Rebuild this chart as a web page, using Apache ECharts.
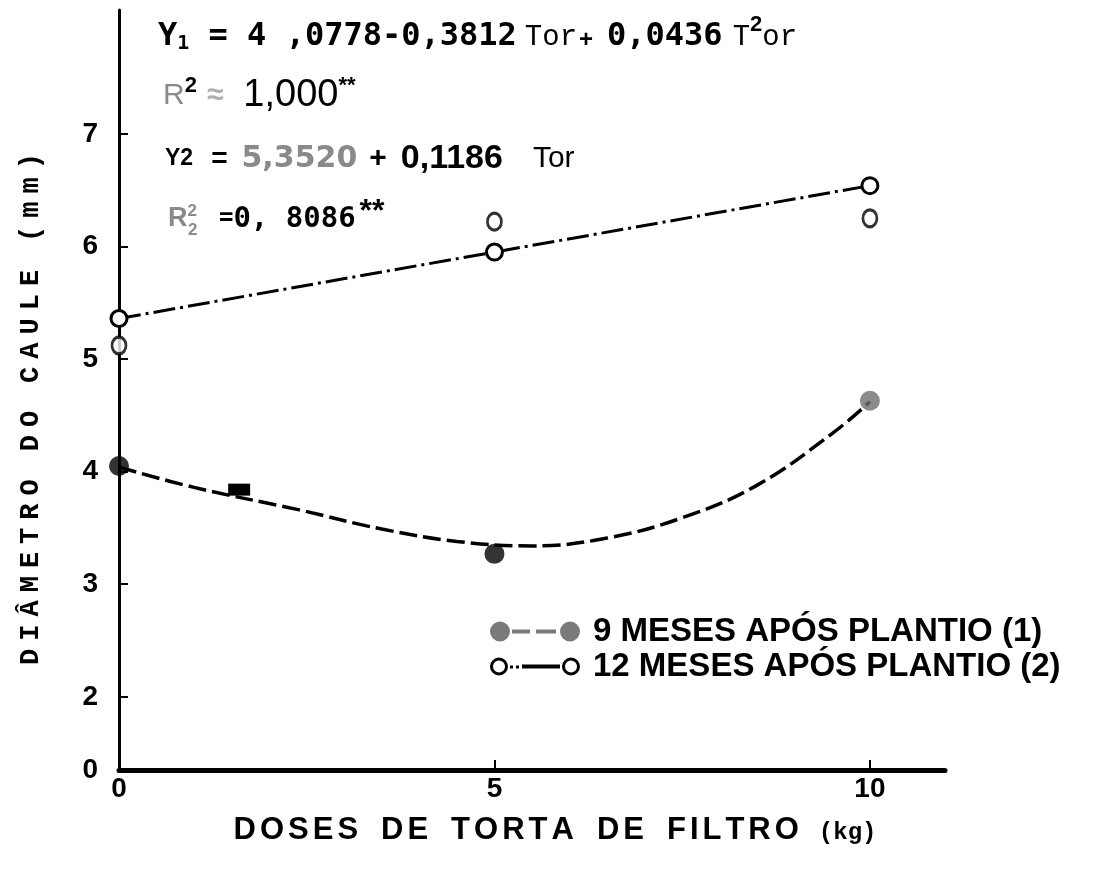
<!DOCTYPE html>
<html>
<head>
<meta charset="utf-8">
<script src="https://cdn.jsdelivr.net/npm/echarts@6/dist/echarts.min.js"></script>
<style>
  html, body { margin: 0; padding: 0; background: #fff; }
  #chart { width: 1105px; height: 876px; }
</style>
</head>
<body>
<div id="chart"></div>
<script>
// doses (kg) and measured means
var doses = [0, 5, 10]
var diam9 = [4.05, 3.27, 4.63]
// fitted curve for 9 months
var curveX9 = [0, 1, 2.4, 3.5, 4.5, 5.5, 6.5, 7.5, 8.5, 9.5, 10]
var curveY9 = [4.04, 3.86, 3.66, 3.49, 3.38, 3.34, 3.41, 3.59, 3.88, 4.34, 4.62]
// 12 months: fitted line and observed points
var fitY12 = [5.36, 5.95, 6.54]
var obsY12 = [5.12, 6.22, 6.25]
// axis ticks
var xTicks = [0, 5, 10]
var yTicks = [2, 3, 4, 5, 6, 7]
var yBottom = 1.35   // broken axis, labelled "0"

var name9 = '9 MESES APÓS PLANTIO (1)'
var name12 = '12 MESES APÓS PLANTIO (2)'

function pairs(xs, ys) {
  return xs.map(function(x, i) { return [x, ys[i]] })
}

// letter spaced rich text
function spaced(str, st) {
  return str.split('').map(function(c) {
    return c === ' ' ? '{w| }' : '{' + st + '|' + c + '}{g| }'
  }).join('')
}

var MONO = 'DejaVu Sans Mono'
var SANS = 'Liberation Sans'
var GREY = '#8a8a8a'

var chart = echarts.init(document.getElementById('chart'))

chart.setOption({
  animation: false,
  grid: {
    left: 119,
    right: 160,
    top: 10,
    bottom: 106
  },
  xAxis: {
    type: 'value',
    min: 0,
    max: 11,
    name: spaced('DOSES DE TORTA DE FILTRO', 'a') + '{k|(kg)}',
    nameLocation: 'middle',
    nameGap: 45,
    nameTextStyle: {
      padding: [0, 0, 0, 46],
      rich: {
        a: { fontFamily: SANS, fontWeight: 'bold', fontSize: 31, color: '#000' },
        g: { fontSize: 10, width: 4 },
        w: { fontSize: 10, width: 19 },
        k: { fontFamily: 'Liberation Mono', fontWeight: 'bold', fontSize: 24, color: '#000', padding: [4, 0, 0, 16] }
      }
    },
    axisLine: { lineStyle: { color: '#000', width: 5 } },
    axisTick: {
      inside: true,
      length: 10,
      customValues: [5, 10],
      lineStyle: { color: '#000', width: 2 }
    },
    axisLabel: {
      customValues: xTicks,
      margin: 5,
      fontFamily: SANS,
      fontWeight: 'bold',
      fontSize: 28,
      color: '#000'
    },
    splitLine: { show: false }
  },
  yAxis: {
    type: 'value',
    min: yBottom,
    max: 8.1,
    name: spaced('DIÂMETRO DO CAULE (mm)', 'a'),
    nameLocation: 'middle',
    nameGap: 74,
    nameTextStyle: {
      padding: [0, 30, 0, 0],
      rich: {
        a: { fontFamily: 'Liberation Mono', fontWeight: 'bold', fontSize: 27, color: '#000' },
        g: { fontSize: 10, width: 8 },
        w: { fontSize: 10, width: 20 }
      }
    },
    axisLine: { show: true, lineStyle: { color: '#000', width: 3 } },
    axisTick: {
      show: true,
      inside: true,
      length: 9,
      customValues: yTicks,
      lineStyle: { color: '#000', width: 2 }
    },
    axisLabel: {
      customValues: [yBottom].concat(yTicks),
      margin: 21,
      fontFamily: SANS,
      fontWeight: 'bold',
      fontSize: 28,
      color: '#000',
      formatter: function(v) { return v < 1.9 ? '0' : String(v) }
    },
    splitLine: { show: false }
  },
  legend: {
    orient: 'vertical',
    left: 485,
    top: 610,
    itemWidth: 90,
    itemHeight: 22,
    itemGap: 2,
    textStyle: {
      fontFamily: SANS,
      fontWeight: 'bold',
      fontSize: 33,
      lineHeight: 30,
      color: '#000',
      padding: [0, 0, 0, 8]
    },
    data: [{
      name: name9,
      icon: 'path://M0,11a10,10 0 1,0 20,0a10,10 0 1,0 -20,0z M22,9h18v4h-18z M46,9h20v4h-20z M70,11a10,10 0 1,0 20,0a10,10 0 1,0 -20,0z',
      itemStyle: { color: '#7a7a7a', borderWidth: 0 }
    }, {
      name: name12,
      icon: 'path://M0,11a9,9 0 1,0 18,0a9,9 0 1,0 -18,0z M3,11a6,6 0 1,1 12,0a6,6 0 1,1 -12,0z M20,10h3v3h-3z M26,10h3v3h-3z M32,9h38v4h-38z M72,11a9,9 0 1,0 18,0a9,9 0 1,0 -18,0z M75,11a6,6 0 1,1 12,0a6,6 0 1,1 -12,0z',
      itemStyle: { color: '#000', borderWidth: 0 }
    }]
  },
  graphic: [{
    type: 'text',
    x: 158,
    y: 37,
    style: {
      text: 'Y{s|1} = 4 ,0778-0,3812{t1|Tor}{pl|+}{m|0,0436}{t2|T}{p|2}{t|or}',
      font: 'bold 32px "DejaVu Sans Mono"',
      verticalAlign: 'middle',
      fill: '#000',
      rich: {
        s: { fontFamily: MONO, fontWeight: 'bold', fontSize: 20, padding: [14, 0, 0, 0], fill: '#000' },
        t1: { fontFamily: 'Liberation Mono', fontSize: 29, padding: [0, 0, 0, 8], fill: '#000' },
        t2: { fontFamily: 'Liberation Mono', fontSize: 29, padding: [0, 0, 0, 10], fill: '#000' },
        t: { fontFamily: 'Liberation Mono', fontSize: 29, fill: '#000' },
        m: { fontFamily: MONO, fontWeight: 'bold', fontSize: 32, padding: [0, 0, 0, 14], fill: '#000' },
        pl: { fontFamily: SANS, fontSize: 24, fontWeight: 'bold', padding: [6, 0, 0, 2], fill: '#000' },
        p: { fontFamily: SANS, fontSize: 22, fontWeight: 'bold', padding: [0, 0, 24, 0], fill: '#000' }
      }
    }
  }, {
    type: 'text',
    x: 163,
    y: 96,
    style: {
      text: '{r|R}{p|2}{blob|≈}1,000{p|**}',
      font: '38px "Liberation Sans"',
      verticalAlign: 'middle',
      fill: '#000',
      rich: {
        r: { fontFamily: SANS, fontSize: 30, fill: GREY },
        p: { fontFamily: SANS, fontSize: 22, fontWeight: 'bold', padding: [0, 0, 20, 0], fill: '#000' },
        blob: { fontFamily: SANS, fontSize: 30, fontWeight: 'bold', fill: '#b0b0b0', padding: [0, 20, 0, 10] }
      }
    }
  }, {
    type: 'text',
    x: 165,
    y: 159,
    style: {
      text: '{y|Y2}{e|=}{g|5,3520}{pl|+}{b|0,1186}{tor|Tor}',
      font: '32px "Liberation Sans"',
      verticalAlign: 'middle',
      fill: '#000',
      rich: {
        y: { fontFamily: SANS, fontWeight: 'bold', fontSize: 23, fill: '#000' },
        e: { fontFamily: SANS, fontWeight: 'bold', fontSize: 28, padding: [0, 0, 0, 18], fill: '#000' },
        g: { fontFamily: 'DejaVu Sans', fontWeight: 'bold', fontSize: 30, padding: [0, 0, 0, 14], fill: GREY },
        pl: { fontFamily: SANS, fontWeight: 'bold', fontSize: 30, padding: [0, 0, 0, 12], fill: '#000' },
        b: { fontFamily: SANS, fontWeight: 'bold', fontSize: 34, padding: [0, 0, 0, 14], fill: '#000' },
        tor: { fontFamily: SANS, fontSize: 30, padding: [0, 0, 0, 30], fill: '#000' }
      }
    }
  }, {
    type: 'text',
    x: 168,
    y: 219,
    style: {
      text: '{r|R}{q|2}{e|=}0, 8086{p|**}',
      font: 'bold 29px "DejaVu Sans Mono"',
      verticalAlign: 'middle',
      fill: '#000',
      rich: {
        r: { fontFamily: SANS, fontWeight: 'bold', fontSize: 27, fill: GREY },
        q: { fontFamily: SANS, fontSize: 17, fontWeight: 'bold', fill: GREY, padding: [0, 0, 16, 0] },
        e: { fontFamily: MONO, fontWeight: 'bold', fontSize: 24, padding: [0, 0, 0, 22], fill: '#000' },
        p: { fontFamily: SANS, fontSize: 32, fontWeight: 'bold', padding: [0, 0, 14, 4], fill: '#000' }
      }
    }
  }, {
    type: 'text',
    x: 188,
    y: 230,
    style: {
      text: '2',
      font: 'bold 17px "Liberation Sans"',
      verticalAlign: 'middle',
      fill: GREY
    }
  }],
  series: [{
    name: name9,
    type: 'line',
    smooth: 0.4,
    showSymbol: false,
    data: pairs(curveX9, curveY9),
    lineStyle: { color: '#000', width: 3.5, type: [18, 6] },
    itemStyle: { color: '#000' },
    markPoint: {
      symbol: 'rect',
      symbolSize: [22, 12],
      itemStyle: { color: '#000' },
      label: { show: false },
      data: [{ coord: [1.6, 3.84] }]
    },
    z: 2
  }, {
    type: 'scatter',
    data: pairs(doses, diam9).map(function(p, i) {
      return { value: p, itemStyle: { color: i === 2 ? '#6e6e6e' : '#000' } }
    }),
    symbol: 'circle',
    symbolSize: 20,
    z: 4
  }, {
    name: name12,
    type: 'line',
    data: pairs(doses, fitY12),
    symbol: 'circle',
    symbolSize: 16,
    lineStyle: { color: '#000', width: 3, type: [22, 5, 3, 5] },
    itemStyle: { color: '#fff', borderColor: '#000', borderWidth: 3 },
    z: 3
  }, {
    type: 'scatter',
    data: pairs(doses, obsY12),
    symbol: 'circle',
    symbolSize: [14, 17],
    itemStyle: { color: '#fff', borderColor: '#000', borderWidth: 3 },
    z: 3
  }]
})
</script>
</body>
</html>
